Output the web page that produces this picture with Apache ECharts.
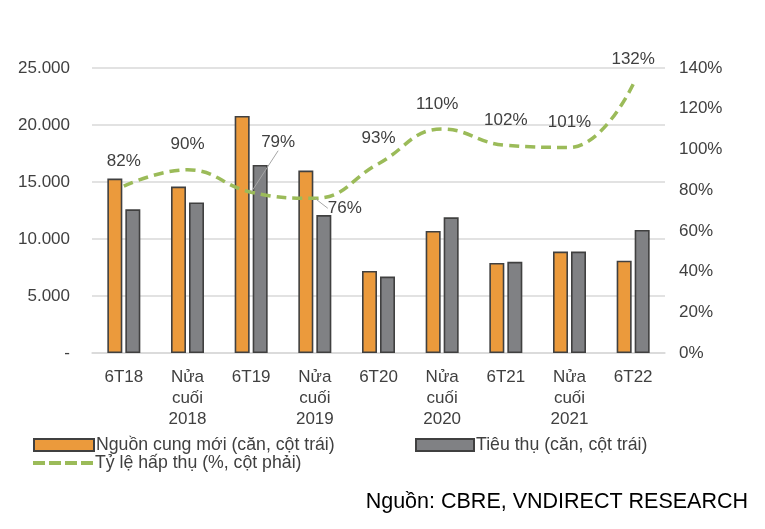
<!DOCTYPE html>
<html>
<head>
<meta charset="utf-8">
<script src="https://cdn.jsdelivr.net/npm/echarts@6/dist/echarts.min.js"></script>
<style>html,body{margin:0;padding:0;background:#fff;}#c{width:765px;height:529px;}</style>
</head>
<body>
<div id="c"></div>
<script>
var categories = ['6T18', 'Nửa\ncuối\n2018', '6T19', 'Nửa\ncuối\n2019', '6T20', 'Nửa\ncuối\n2020', '6T21', 'Nửa\ncuối\n2021', '6T22'];
var supplyNew = [15300, 14600, 20800, 16000, 7200, 10700, 7900, 8900, 8100];
var absorbed = [12600, 13200, 16500, 12100, 6700, 11900, 8000, 8900, 10800];
var absorptionRate = [82, 90, 79, 76, 93, 110, 102, 101, 132];
var leftTicks = [0, 5000, 10000, 15000, 20000, 25000];
var rightTicks = [0, 20, 40, 60, 80, 100, 120, 140];
var seriesNames = ['Nguồn cung mới (căn, cột trái)', 'Tiêu thụ (căn, cột trái)', 'Tỷ lệ hấp thụ (%, cột phải)'];
var sourceText = 'Nguồn: CBRE, VNDIRECT RESEARCH';

var FONT = 'Liberation Sans, Arial, sans-serif';
var TXT = '#404040';
var GREEN = '#9BBB59';

var chart = echarts.init(document.getElementById('c'));

var lineData = absorptionRate.map(function (v, i) {
  var item = { value: v };
  if (i === 2 || i === 3) item.labelLine = { show: true };
  return item;
});

var legendText = { fontFamily: FONT, fontSize: 17.7, color: TXT, padding: [0, 0, 0, -3] };

chart.setOption({
  animation: false,
  grid: { left: 92, right: 100, top: 68, bottom: 176 },
  legend: [
    { data: [{ name: seriesNames[0], icon: 'rect' }], left: 33, top: 436, padding: 0,
      itemWidth: 60, itemHeight: 12, textStyle: legendText },
    { data: [{ name: seriesNames[1], icon: 'rect' }], left: 415, top: 436, padding: 0,
      itemWidth: 58, itemHeight: 12, textStyle: legendText },
    { data: [{ name: seriesNames[2],
        icon: 'path://M0,0h12v4h-12z M16,0h12v4h-12z M32,0h12v4h-12z M48,0h12v4h-12z',
        itemStyle: { color: GREEN, borderWidth: 0 } }],
      left: 33, top: 454, padding: 0, itemWidth: 60, itemHeight: 4,
      textStyle: legendText }
  ],
  graphic: [{
    type: 'text', right: 17, top: 491,
    style: { text: sourceText, font: '21.5px Liberation Sans, Arial, sans-serif', fill: '#000' }
  }],
  xAxis: {
    type: 'category', data: categories,
    axisLine: { show: true, lineStyle: { color: '#d9d9d9', width: 1.5 } },
    axisTick: { show: false },
    axisLabel: { fontFamily: FONT, fontSize: 17, color: TXT, margin: 14, lineHeight: 21, interval: 0 }
  },
  yAxis: [
    { type: 'value', min: 0, max: 25000, interval: 5000,
      axisLine: { show: false }, axisTick: { show: false },
      splitLine: { lineStyle: { color: '#d9d9d9', width: 1.5 } },
      axisLabel: { fontFamily: FONT, fontSize: 17, color: TXT, margin: 22,
        formatter: function (v) { return v === 0 ? '-' : (v / 1000).toFixed(3); } } },
    { type: 'value', min: 0, max: 140, interval: 20,
      axisLine: { show: false }, axisTick: { show: false }, splitLine: { show: false },
      axisLabel: { fontFamily: FONT, fontSize: 17, color: TXT, margin: 14,
        formatter: '{value}%' } }
  ],
  series: [
    { name: seriesNames[0], type: 'bar', data: supplyNew, barWidth: 15, barGap: '20%',
      itemStyle: { color: '#EB9A3C', borderColor: '#404040', borderWidth: 1.6 } },
    { name: seriesNames[1], type: 'bar', data: absorbed, barWidth: 15,
      itemStyle: { color: '#808184', borderColor: '#404040', borderWidth: 1.6 } },
    { name: seriesNames[2], type: 'line', yAxisIndex: 1, data: lineData, smooth: 0.45,
      symbol: 'circle', symbolSize: 1, showSymbol: true, showAllSymbol: true, z: 5,
      lineStyle: { color: GREEN, width: 3.5, type: [10, 6] },
      itemStyle: { color: 'rgba(0,0,0,0)' },
      label: { show: true, position: 'top', distance: 16, formatter: '{c}%',
        fontFamily: FONT, fontSize: 17, color: TXT },
      labelLine: { show: false, lineStyle: { color: '#a6a6a6', width: 1 } },
      labelLayout: function (p) {
        if (p.dataIndex === 2) return { dx: 27, dy: -25 };
        if (p.dataIndex === 3) return { dx: 30, dy: 35 };
        if (p.dataIndex === 5) return { dx: -5 };
        return {};
      }
    }
  ]
});
</script>
</body>
</html>
